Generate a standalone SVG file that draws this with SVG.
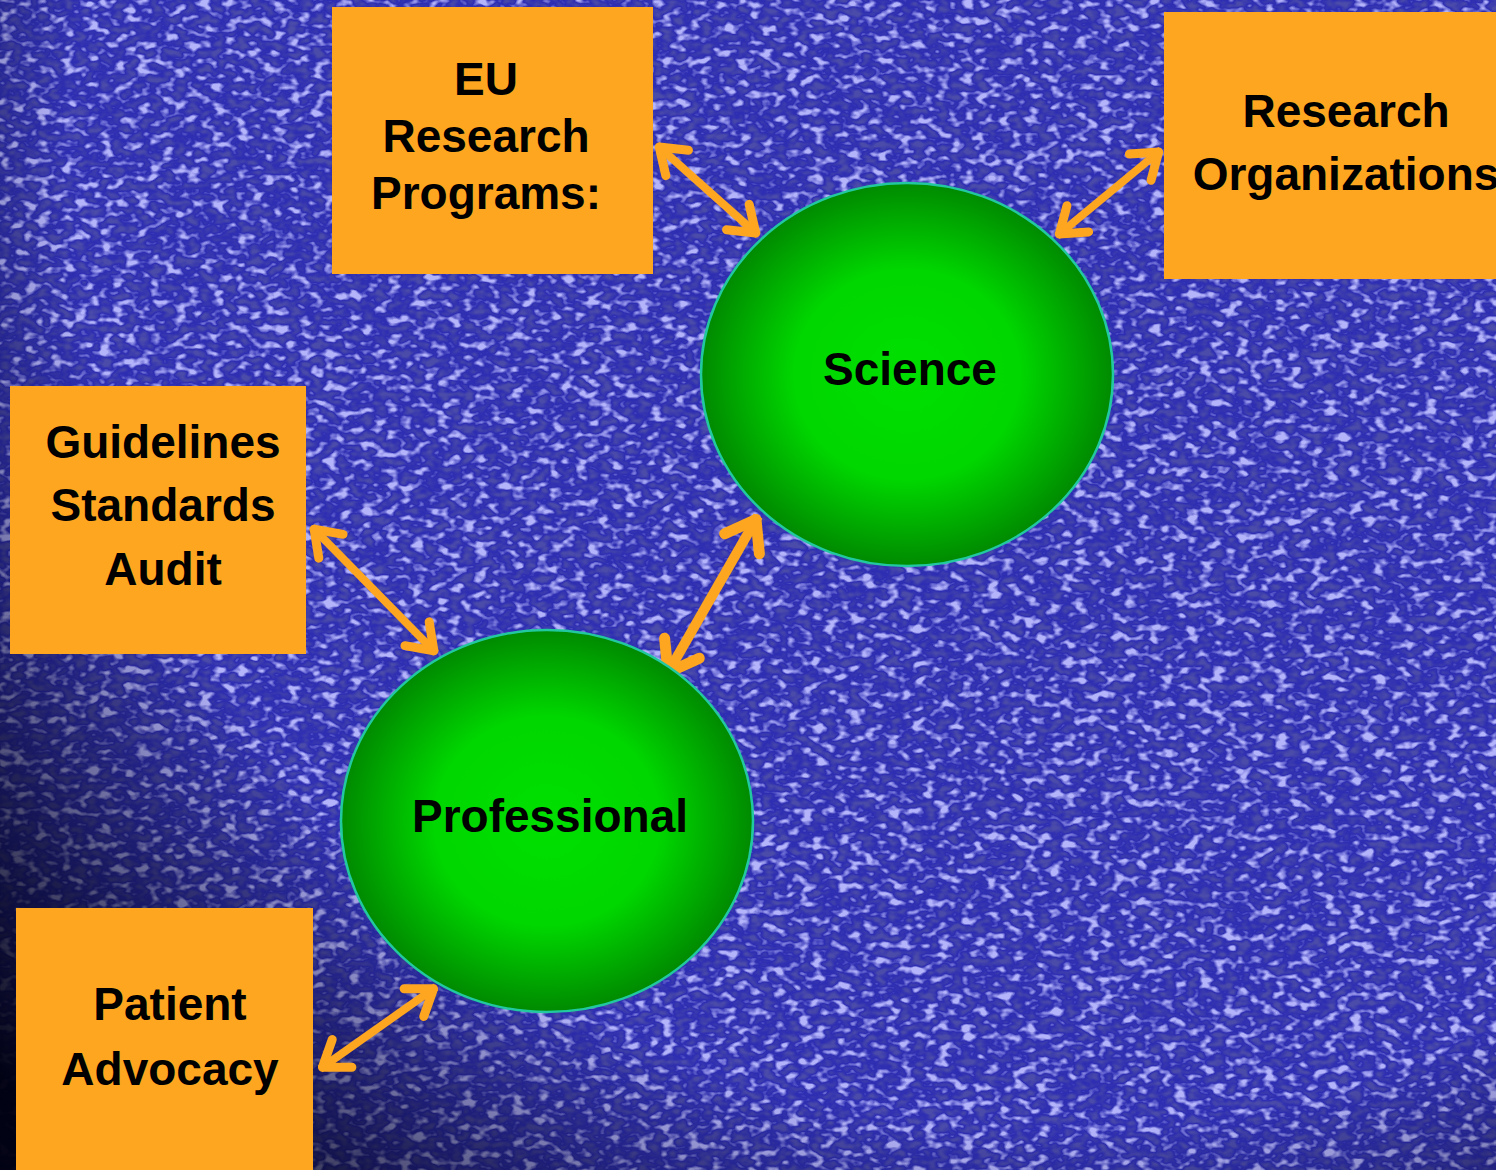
<svg xmlns="http://www.w3.org/2000/svg" width="1496" height="1170" viewBox="0 0 1496 1170">
<defs>
<style>
.box{fill:#FEA620}
.lbl{font-family:"Liberation Sans",Arial,sans-serif;font-weight:bold;font-size:46px;fill:#000;text-anchor:middle}
.circ{stroke:#22C8A0;stroke-width:2.5}
.conn{stroke:#FEA620;stroke-width:8;fill:none;marker-start:url(#ah);marker-end:url(#ah)}
</style>
<radialGradient id="g" cx="50%" cy="50%" r="50%">
<stop offset="0" stop-color="#00E000"/>
<stop offset="0.55" stop-color="#00D600"/>
<stop offset="1" stop-color="#008A00"/>
</radialGradient>
<radialGradient id="vig" gradientUnits="userSpaceOnUse" cx="1050" cy="150" r="1400">
<stop offset="0.7" stop-color="#000010" stop-opacity="0"/>
<stop offset="0.88" stop-color="#000010" stop-opacity="0.6"/>
<stop offset="1" stop-color="#000010" stop-opacity="0.97"/>
</radialGradient>
<filter id="tex" x="0" y="0" width="100%" height="100%">
<feTurbulence type="fractalNoise" baseFrequency="0.08 0.12" numOctaves="2" seed="7" result="n"/>
<feColorMatrix in="n" type="matrix" values="0 0 0 0 0.46  0 0 0 0 0.46  0 0 0 0 0.97  5 0 0 0 -2.6" result="hi"/>
<feColorMatrix in="n" type="matrix" values="0 0 0 0 0.07  0 0 0 0 0.07  0 0 0 0 0.40  -4 0 0 0 2.0" result="lo"/>
<feMerge><feMergeNode in="lo"/><feMergeNode in="hi"/></feMerge>
</filter>
<marker id="ah" viewBox="-34 -24 38 48" markerWidth="38" markerHeight="48" refX="0" refY="0" orient="auto-start-reverse" markerUnits="userSpaceOnUse">
<path d="M -27 -17 L -3 0 L -27 17" fill="none" stroke="#FEA620" stroke-width="9" stroke-linecap="round" stroke-linejoin="round"/>
</marker>
<marker id="ah2" viewBox="-40 -28 44 56" markerWidth="44" markerHeight="56" refX="0" refY="0" orient="auto-start-reverse" markerUnits="userSpaceOnUse">
<path d="M -32 -20 L -4 0 L -32 20" fill="none" stroke="#FEA620" stroke-width="11" stroke-linecap="round" stroke-linejoin="round"/>
</marker>
</defs>
<rect width="1496" height="1170" fill="#2E2EB2"/>
<rect width="1496" height="1170" filter="url(#tex)"/>
<rect width="1496" height="1170" fill="url(#vig)"/>

<g id="connectors">
<line class="conn" x1="657" y1="145" x2="758" y2="235"/>
<line class="conn" x1="1161" y1="150" x2="1057" y2="236"/>
<line class="conn" x1="758" y1="516" x2="666" y2="676" style="stroke-width:10;marker-start:url(#ah2);marker-end:url(#ah2)"/>
<line class="conn" x1="312" y1="527" x2="436" y2="653"/>
<line class="conn" x1="320" y1="1069" x2="436" y2="987"/>
</g>

<g id="science">
<ellipse class="circ" cx="907" cy="374.5" rx="206" ry="191.5" fill="url(#g)"/>
<text class="lbl" x="910" y="385">Science</text>
</g>
<g id="professional">
<ellipse class="circ" cx="547" cy="821" rx="206" ry="191" fill="url(#g)"/>
<text class="lbl" x="550" y="832">Professional</text>
</g>

<g id="eu">
<rect class="box" x="332" y="7" width="321" height="267"/>
<text class="lbl" x="486" y="95">EU</text>
<text class="lbl" x="486" y="152">Research</text>
<text class="lbl" x="486" y="209">Programs:</text>
</g>
<g id="researchorg">
<rect class="box" x="1164" y="12" width="340" height="267"/>
<text class="lbl" x="1346" y="127">Research</text>
<text class="lbl" x="1346" y="190">Organizations</text>
</g>
<g id="guidelines">
<rect class="box" x="10" y="386" width="296" height="268"/>
<text class="lbl" x="163" y="458">Guidelines</text>
<text class="lbl" x="163" y="521">Standards</text>
<text class="lbl" x="163" y="585">Audit</text>
</g>
<g id="patient">
<rect class="box" x="16" y="908" width="297" height="270"/>
<text class="lbl" x="170" y="1020">Patient</text>
<text class="lbl" x="170" y="1085">Advocacy</text>
</g>
</svg>
